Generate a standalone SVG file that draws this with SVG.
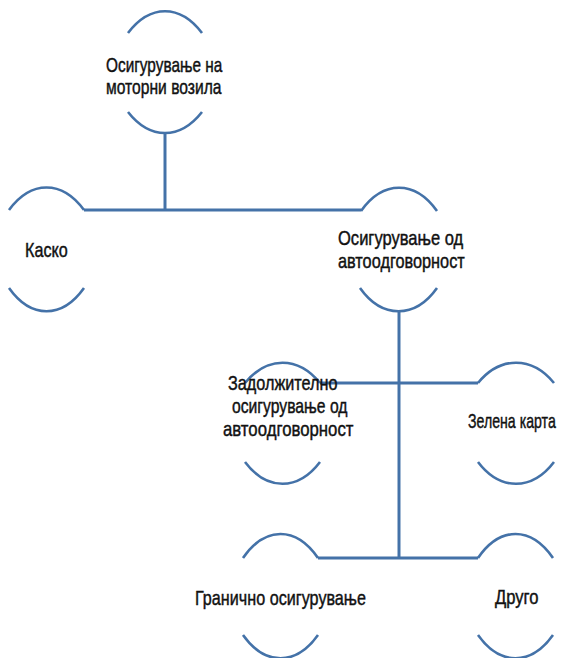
<svg xmlns="http://www.w3.org/2000/svg" width="566" height="658" viewBox="0 0 566 658">
<style>
.arc{fill:none;stroke:#4472a8;stroke-width:2.6;stroke-linecap:butt}
.con{fill:none;stroke:#4472a8;stroke-width:3}
text{font-family:"Liberation Sans",Arial,sans-serif;font-size:20.5px;fill:#111;stroke:#111;stroke-width:0.45}
</style>
<rect width="566" height="658" fill="#fff"/>
<g id="connectors">
<path class="con" d="M165 132 V210"/>
<path class="con" d="M84 210 H361"/>
<path class="con" d="M399 312 V558"/>
<path class="con" d="M320 383 H478"/>
<path class="con" d="M318 558 H478"/>
</g>
<g id="node-motor">
<path class="arc" d="M128 33 C150 4 180 4 202 33"/>
<path class="arc" d="M128 112 C150 140 180 140 202 112"/>
<text transform="translate(106,72) scale(0.75,1)" textLength="155" lengthAdjust="spacingAndGlyphs">Осигурување на</text>
<text transform="translate(106,94) scale(0.75,1)" textLength="154" lengthAdjust="spacingAndGlyphs">моторни возила</text>
</g>
<g id="node-kasko">
<path class="arc" d="M9 210 C31 180 62 180 84 210"/>
<path class="arc" d="M9 288 C31 319 62 319 84 288"/>
<text transform="translate(25,257) scale(0.75,1)" textLength="57" lengthAdjust="spacingAndGlyphs">Каско</text>
</g>
<g id="node-avto">
<path class="arc" d="M361 211 C383 180 415 180 437 211"/>
<path class="arc" d="M360 288 C382 319 415 319 437 288"/>
<text transform="translate(338,245) scale(0.75,1)" textLength="167" lengthAdjust="spacingAndGlyphs">Осигурување од</text>
<text transform="translate(338,268) scale(0.75,1)" textLength="169" lengthAdjust="spacingAndGlyphs">автоодговорност</text>
</g>
<g id="node-zadolzh">
<path class="arc" d="M245 383 C267 356 298 356 320 383"/>
<path class="arc" d="M245 462 C267 491 298 491 320 462"/>
<text transform="translate(228,390) scale(0.75,1)" textLength="146" lengthAdjust="spacingAndGlyphs">Задолжително</text>
<text transform="translate(232,413) scale(0.75,1)" textLength="154" lengthAdjust="spacingAndGlyphs">осигурување од</text>
<text transform="translate(223,436) scale(0.75,1)" textLength="174" lengthAdjust="spacingAndGlyphs">автоодговорност</text>
</g>
<g id="node-zelena">
<path class="arc" d="M478 383 C500 356 532 356 554 383"/>
<path class="arc" d="M478 462 C500 491 532 491 554 462"/>
<text transform="translate(468,428) scale(0.75,1)" textLength="117" lengthAdjust="spacingAndGlyphs">Зелена карта</text>
</g>
<g id="node-granicno">
<path class="arc" d="M243 558 C265 526 296 526 318 558"/>
<path class="arc" d="M243 635 C265 666 296 666 318 635"/>
<text transform="translate(195,605) scale(0.75,1)" textLength="228" lengthAdjust="spacingAndGlyphs">Гранично осигурување</text>
</g>
<g id="node-drugo">
<path class="arc" d="M478 558 C500 526 531 526 553 558"/>
<path class="arc" d="M478 635 C500 666 531 666 553 635"/>
<text transform="translate(495,604) scale(0.75,1)" textLength="58" lengthAdjust="spacingAndGlyphs">Друго</text>
</g>
</svg>
